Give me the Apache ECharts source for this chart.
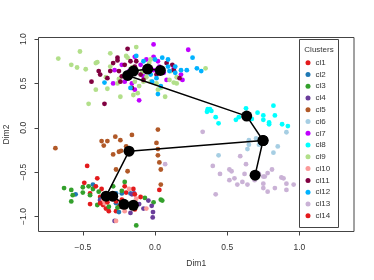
<!DOCTYPE html>
<html><head><meta charset="utf-8">
<script src="https://cdn.jsdelivr.net/npm/echarts@6/dist/echarts.min.js"></script>
<style>html,body{margin:0;padding:0;background:#fff}#c{width:374px;height:280px}</style>
</head><body><div id="c"></div>
<script>
// ---- data (Dim1, Dim2) ----
const clusterNames = ["cl1","cl2","cl3","cl4","cl5","cl6","cl7","cl8","cl9","cl10","cl11","cl12","cl13","cl14"];
const clusterColors = ["#E31A1C","#1F78B4","#33A02C","#6A3D9A","#B15928","#A6CEE3","#C000FF","#00FFFF","#B2DF8A","#FB9A99","#800040","#00B2FF","#CAB2D6","#E31A1C"];
const xTicks = [-0.5, 0, 0.5, 1.0];
const yTicks = [-1.0, -0.5, 0, 0.5, 1.0];

const cl1 = [[-0.47,-0.43],[-0.40,-0.57],[-0.49,-0.62],[-0.45,-0.74],[-0.45,-0.86],[-0.37,-0.69],[-0.38,-0.78],[-0.36,-0.87],[-0.34,-0.91],[-0.32,-0.94],[-0.27,-0.94],[-0.25,-0.89],[-0.21,-0.66],[-0.20,-0.73],[-0.15,-0.69]];
const cl2 = [[-0.55,-0.75],[-0.43,-0.64],[-0.27,-0.74],[-0.23,-0.74],[-0.25,-0.95],[-0.27,-0.85],[-0.17,-0.74],[-0.38,-0.81]];
const cl3 = [[-0.63,-0.68],[-0.58,-0.70],[-0.58,-0.83],[-0.57,-0.76],[-0.50,-0.67],[-0.50,-0.73],[-0.46,-0.66],[-0.45,-0.76],[-0.43,-0.69],[-0.39,-0.72],[-0.40,-0.87],[-0.29,-0.66],[-0.23,-0.71],[-0.21,-0.61],[-0.26,-0.90],[-0.07,-0.79],[-0.01,-0.84],[0.04,-0.81],[0.05,-0.82],[-0.13,-1.10],[-0.32,-0.89]];
const cl4 = [[-0.16,-0.75],[-0.145,-0.74],[-0.17,-0.96],[-0.08,-0.91],[-0.046,-0.82],[-0.023,-0.88],[-0.014,-0.95],[-0.016,-1.01],[-0.28,-1.05],[-0.38,-0.82],[-0.11,-0.86]];
const cl5 = [[-0.69,-0.23],[-0.37,-0.15],[-0.33,-0.15],[-0.355,-0.20],[-0.275,-0.10],[-0.24,-0.14],[-0.16,-0.08],[-0.20,-0.21],[-0.25,-0.27],[-0.235,-0.26],[-0.29,-0.30],[0.02,-0.02],[0.01,-0.17],[0.02,-0.24],[0.02,-0.31],[0.03,-0.39],[0.04,-0.47],[-0.27,-0.47],[-0.19,-0.49],[0.04,-0.64]];
const cl6 = [[0.91,-0.05],[0.70,-0.12],[0.65,-0.14],[0.65,-0.19],[0.72,-0.19],[0.64,-0.24],[0.85,-0.21],[0.82,-0.28],[0.44,-0.31],[0.74,-0.12]];
const cl7 = [[-0.01,0.94],[0.23,0.88],[-0.14,0.80],[-0.01,0.80],[0.02,0.75],[-0.06,0.77],[-0.10,0.71],[-0.28,0.65],[-0.18,0.64],[-0.08,0.58],[-0.21,0.52],[-0.16,0.50],[-0.14,0.43],[-0.11,0.31],[0.06,0.62],[0.13,0.67],[0.18,0.60],[0.19,0.54],[0.08,0.54],[-0.01,0.65],[0.03,0.69],[-0.07,0.67],[-0.23,0.71],[-0.29,0.50]];
const cl8 = [[0.365,0.21],[0.38,0.21],[0.39,0.19],[0.36,0.18],[0.42,0.12],[0.44,0.05],[0.56,0.09],[0.58,0.12],[0.63,0.22],[0.67,0.10],[0.71,0.17],[0.75,0.14],[0.75,0.09],[0.79,0.06],[0.79,0.04],[0.82,0.25],[0.83,0.14],[0.88,0.04],[0.92,0.02]];
const cl9 = [[-0.67,0.78],[-0.52,0.86],[-0.58,0.71],[-0.54,0.68],[-0.48,0.66],[-0.40,0.74],[-0.41,0.73],[-0.46,0.27],[-0.41,0.43],[-0.33,0.44],[-0.31,0.84],[-0.31,0.69],[-0.25,0.55],[-0.24,0.35],[-0.26,0.50],[-0.20,0.81],[-0.13,0.91],[-0.16,0.68],[-0.15,0.37],[-0.09,0.63],[-0.08,0.52],[-0.03,0.77],[-0.03,0.52],[0.01,0.50],[0.02,0.43],[0.07,0.35],[0.10,0.54],[0.13,0.51],[0.15,0.50],[0.35,0.67],[-0.19,0.79],[-0.04,0.73],[0.11,0.64],[0.15,0.57],[0.04,0.45],[-0.06,0.57],[-0.14,0.52],[-0.11,0.47],[-0.12,0.39],[-0.34,0.57]];
const cl10 = [[-0.13,-0.80],[-0.06,-0.91],[-0.21,-0.94],[-0.35,-0.85],[-0.27,-1.05],[-0.36,-0.81],[-0.18,-0.69]];
const cl11 = [[-0.19,0.89],[-0.26,0.79],[-0.26,0.76],[-0.29,0.73],[-0.39,0.64],[-0.44,0.52],[-0.35,0.27],[-0.31,0.64],[-0.25,0.64],[-0.23,0.58],[-0.21,0.71],[-0.17,0.75],[-0.16,0.45],[-0.13,0.75],[-0.10,0.60],[-0.03,0.67],[0.08,0.73],[0.12,0.71],[0.13,0.65],[0.17,0.56],[0.01,0.60],[-0.08,0.54],[-0.14,0.69],[-0.24,0.52],[-0.33,0.56],[-0.38,0.60]];
const cl12 = [[-0.13,0.81],[-0.08,0.75],[0.00,0.77],[0.05,0.79],[0.09,0.77],[0.14,0.69],[0.18,0.65],[0.26,0.79],[0.29,0.67],[0.32,0.64],[0.22,0.65],[0.14,0.62],[0.10,0.64],[-0.03,0.60],[0.01,0.56],[-0.02,0.52],[0.04,0.47],[0.02,0.38],[-0.17,0.45],[-0.35,0.51],[-0.20,0.61],[-0.06,0.65],[0.09,0.69]];
const cl13 = [[0.33,-0.045],[0.59,-0.32],[0.63,-0.41],[0.40,-0.43],[0.45,-0.52],[0.515,-0.47],[0.53,-0.49],[0.55,-0.57],[0.515,-0.59],[0.62,-0.52],[0.57,-0.64],[0.605,-0.61],[0.64,-0.64],[0.69,-0.59],[0.72,-0.52],[0.75,-0.55],[0.76,-0.55],[0.78,-0.51],[0.81,-0.47],[0.75,-0.63],[0.75,-0.68],[0.78,-0.72],[0.83,-0.68],[0.875,-0.56],[0.89,-0.57],[0.91,-0.63],[0.96,-0.64],[0.91,-0.70],[0.42,-0.75],[0.71,-0.55],[0.07,-0.41]];
const cl14 = [[-0.14,-0.75],[-0.10,-0.78],[-0.23,-0.81],[-0.17,-0.87],[-0.14,-0.92],[0.03,-0.70],[-0.33,-0.84],[-0.38,-0.85],[-0.30,-0.80],[-0.41,-0.66],[-0.32,-0.76],[-0.27,-0.83]];
const clusterData = [cl1,cl2,cl3,cl4,cl5,cl6,cl7,cl8,cl9,cl10,cl11,cl12,cl13,cl14];

// centroid lineages
const lineage1 = [[0.037,0.647],[-0.051,0.662],[-0.150,0.640],[-0.189,0.590],[0.635,0.132],[0.748,-0.143],[0.693,-0.534]];
const lineage2 = [[0.748,-0.143],[-0.180,-0.263],[-0.339,-0.771],[-0.293,-0.771],[-0.215,-0.862],[-0.150,-0.873]];

const FONT = '"Liberation Sans", Arial, sans-serif';
const chart = echarts.init(document.getElementById('c'), null, {renderer:'canvas'});
const series = clusterData.map((d,i)=>({
  name: clusterNames[i], type:'scatter', data:d, symbol:'circle', symbolSize:4.8,
  itemStyle:{color:clusterColors[i], opacity:1}, z:2, silent:true
}));
[lineage1, lineage2].forEach(l=>series.push({
  type:'line', data:l, symbol:'circle', symbolSize:11, showSymbol:true,
  itemStyle:{color:'#000'}, lineStyle:{color:'#000', width:1.5}, z:5, silent:true, animation:false
}));

chart.setOption({
  animation:false,
  backgroundColor:'#fff',
  grid:{left:38.5, top:37.5, width:315.5, height:194, show:true, borderColor:'#444', borderWidth:1, containLabel:false, outerBoundsMode:'none'},
  xAxis:{type:'value', min:-0.807, max:1.378,
    name:'Dim1', nameLocation:'middle', nameGap:28, nameTextStyle:{fontFamily:FONT, fontSize:8.5, color:'#333'},
    axisLine:{show:false, onZero:false}, splitLine:{show:false},
    axisTick:{show:true, customValues:xTicks, length:4, lineStyle:{color:'#444'}},
    axisLabel:{customValues:xTicks, formatter:v=>v.toFixed(1).replace('-','\u2212'), fontFamily:FONT, fontSize:8.5, color:'#333', margin:11.5}},
  yAxis:{type:'value', min:-1.169, max:1.018,
    name:'Dim2', nameLocation:'middle', nameGap:26, nameTextStyle:{fontFamily:FONT, fontSize:8.5, color:'#333'},
    axisLine:{show:false, onZero:false}, splitLine:{show:false},
    axisTick:{show:true, customValues:yTicks, length:4, lineStyle:{color:'#444'}},
    axisLabel:{customValues:yTicks, rotate:90, formatter:v=>v.toFixed(1).replace('-','\u2212'), fontFamily:FONT, fontSize:8.5, color:'#333', margin:10}},
  legend:{data:clusterNames, orient:'vertical', left:305.5, top:56.8, itemWidth:5, itemHeight:11.77, itemGap:0, icon:'circle', padding:0, z:20,
    textStyle:{fontFamily:FONT, fontSize:8, color:'#333', lineHeight:11.77}, selectedMode:false},
  graphic:[
    {type:'rect', shape:{x:299.5, y:39.5, width:39, height:188}, style:{fill:'none', stroke:'#444', lineWidth:1}, z:10, silent:true},
    {type:'text', x:319, y:50, style:{text:'Clusters', fontFamily:FONT, fontSize:8, fill:'#333', textAlign:'center', textVerticalAlign:'middle'}, z:11}
  ],
  series: series
});
</script></body></html>
